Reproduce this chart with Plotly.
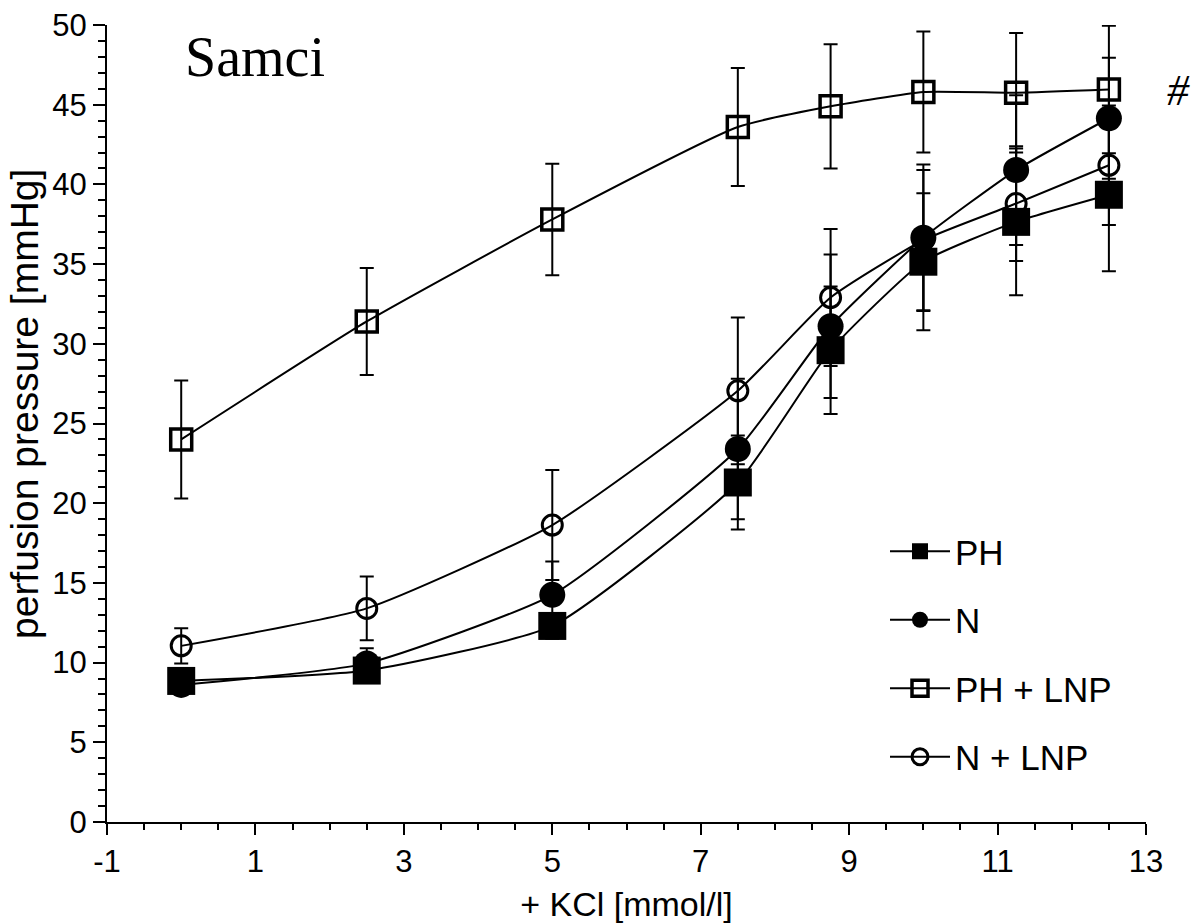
import plotly.graph_objects as go

# KCl concentration [mmol/l]
kcl = [0, 2.5, 5, 7.5, 8.75, 10, 11.25, 12.5]

ph = [8.85, 9.5, 12.3, 21.3, 29.6, 35.15, 37.65, 39.35]
ph_err = [0.6, 0.6, 0.8, 2.95, 4.0, 4.3, 4.6, 4.8]

n = [8.6, 9.95, 14.25, 23.4, 31.1, 36.65, 40.9, 44.15]
n_err = [0.5, 0.95, 2.1, 4.4, 4.5, 4.6, 4.7, 3.8]

ph_lnp = [24.0, 31.4, 37.8, 43.6, 44.9, 45.8, 45.75, 45.95]
ph_lnp_err = [3.7, 3.35, 3.5, 3.7, 3.9, 3.8, 3.75, 4.0]

n_lnp = [11.05, 13.4, 18.63, 27.05, 32.9, 36.5, 38.8, 41.2]
n_lnp_err = [1.1, 2.0, 3.45, 4.6, 4.3, 4.4, 3.6, 3.75]

x_tick_vals = [-1, 1, 3, 5, 7, 9, 11, 13]
x_tick_text = ["-1", "1", "3", "5", "7", "9", "11", "13"]

series = [
    ("PH", ph, ph_err, dict(symbol="square", size=28, color="black",
                            line=dict(width=0, color="black"))),
    ("N", n, n_err, dict(symbol="circle", size=26, color="black",
                         line=dict(width=0, color="black"))),
    ("PH + LNP", ph_lnp, ph_lnp_err, dict(symbol="square-open", size=21, color="black",
                                          line=dict(width=3.5, color="black"))),
    ("N + LNP", n_lnp, n_lnp_err, dict(symbol="circle-open", size=20, color="black",
                                       line=dict(width=3, color="black"))),
]

fig = go.Figure()
for name, vals, errs, mk in series:
    fig.add_trace(go.Scatter(
        x=kcl, y=vals, name=name, mode="lines+markers",
        line=dict(color="black", width=2, shape="spline", smoothing=0.5),
        marker=mk,
        error_y=dict(type="data", array=errs, visible=True,
                     color="black", thickness=2, width=7),
        legendgroup=name,
    ))

font_family = "Liberation Sans, Arial, sans-serif"
serif = "Liberation Serif, Times New Roman, serif"

fig.update_layout(
    width=1193, height=923,
    margin=dict(l=107, r=47, t=25, b=101, autoexpand=False),
    paper_bgcolor="white", plot_bgcolor="white",
    font=dict(family=font_family, size=31, color="black"),
    showlegend=True,
    legend=dict(
        x=(885 - 107) / 1039, y=(822 - 522) / 797, xanchor="left", yanchor="top",
        font=dict(size=35, family=font_family, color="black"),
        bgcolor="rgba(0,0,0,0)", tracegroupgap=20, itemwidth=60,
    ),
    xaxis=dict(
        range=[-1, 13], tickmode="array", tickvals=x_tick_vals, ticktext=x_tick_text,
        showgrid=False, zeroline=False, automargin=False,
        showline=True, linecolor="black", linewidth=2,
        ticks="outside", ticklen=11, tickwidth=2, tickcolor="black",
        tickfont=dict(size=31),
        minor=dict(dtick=0.5, tick0=-1, ticks="outside", ticklen=6, tickwidth=1.5,
                   tickcolor="black", showgrid=False),
        title=dict(text="+ KCl [mmol/l]", font=dict(size=34), standoff=22),
    ),
    yaxis=dict(
        range=[0, 50], tick0=0, dtick=5, showgrid=False, zeroline=False, automargin=False,
        showline=True, linecolor="black", linewidth=2,
        ticks="outside", ticklen=12, tickwidth=2, tickcolor="black",
        tickfont=dict(size=31),
        minor=dict(dtick=1, tick0=0, ticks="outside", ticklen=7, tickwidth=1.5,
                   tickcolor="black", showgrid=False),
    ),
    annotations=[
        dict(text="perfusion pressure [mmHg]", textangle=-90, xref="paper", yref="paper",
             x=(24 - 107) / 1039, y=(822 - 404) / 797, xanchor="center", yanchor="middle",
             showarrow=False, font=dict(size=39, family=font_family)),
        dict(text="Samci", xref="paper", yref="paper",
             x=(183 - 107) / 1039, y=(822 - 57) / 797, xanchor="left", yanchor="middle",
             showarrow=False, font=dict(size=56, family=serif)),
        dict(text="<i>#</i>", xref="paper", yref="paper",
             x=(1178 - 107) / 1039, y=(822 - 90) / 797, xanchor="center", yanchor="middle",
             showarrow=False, font=dict(size=44, family=serif)),
    ],
)

fig.write_html("out.html")
